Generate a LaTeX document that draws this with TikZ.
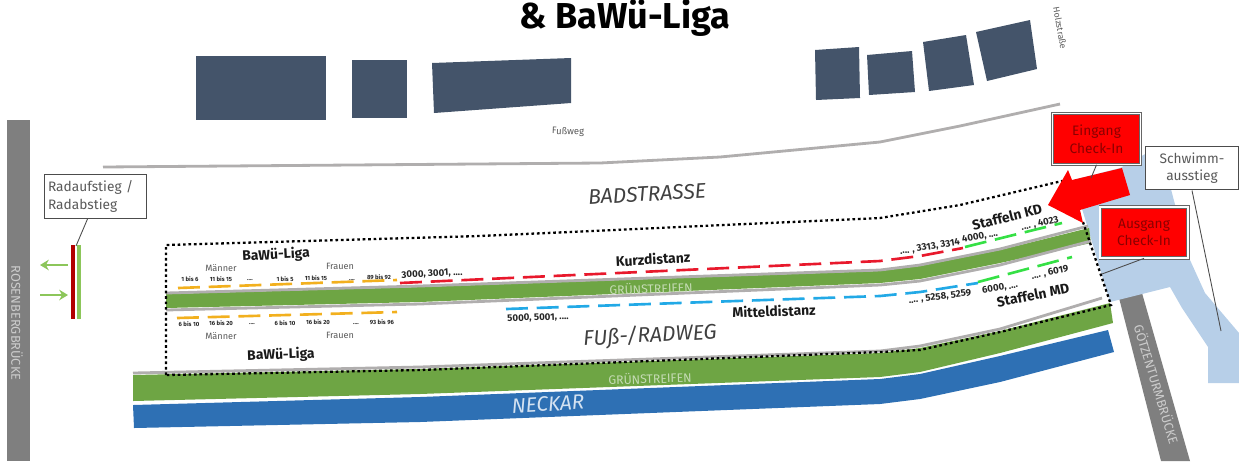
\documentclass[tikz,border=0pt]{standalone}
\usepackage{fontspec}
\setmainfont{Fira Sans}
\usetikzlibrary{arrows.meta,calc}
\definecolor{HouseBlue}{HTML}{44546a}
\definecolor{RoadGray}{HTML}{7f7f7f}
\definecolor{EdgeGray}{HTML}{b0aeae}
\definecolor{StripGreen}{HTML}{6ea544}
\definecolor{RiverBlue}{HTML}{2e70b4}
\definecolor{WaterBlue}{HTML}{b7cfe8}
\definecolor{LaneOrange}{HTML}{f2b01e}
\definecolor{LaneRed}{HTML}{e8192c}
\definecolor{LaneGreen}{HTML}{35e045}
\definecolor{LaneBlue}{HTML}{22a9e6}
\definecolor{ArrowGreen}{HTML}{8cc65a}
\definecolor{LabelGray}{HTML}{595959}
\definecolor{CheckRed}{HTML}{ff0000}
\definecolor{CheckText}{HTML}{8a0000}
\newcommand{\moredots}{....}
\tikzset{
    house/.style={fill=HouseBlue,draw=none},
    edgeline/.style={draw=EdgeGray,line width=1.6pt,line join=round},
    lane/.style={line width=1.5pt,dash pattern=on 12.5pt off 5pt},
    dotbox/.style={line width=1.3pt,dash pattern=on 1.5pt off 1.6pt},
    tinylabel/.style={font=\bfseries\fontsize{3.4}{4}\selectfont,text=black!85,inner sep=0pt},
    numlabel/.style={font=\bfseries\fontsize{5.5}{6}\selectfont,text=black!85,inner sep=0pt},
    groupname/.style={font=\bfseries\fontsize{7.9}{9}\selectfont,text=black!90,inner sep=0pt},
    sexlabel/.style={font=\fontsize{5.2}{6}\selectfont,text=LabelGray,inner sep=0pt},
    striplabel/.style={font=\fontsize{7}{8}\selectfont,text=StripGreen!40!white,inner sep=0pt},
    streetname/.style={font=\itshape\fontsize{12}{14}\selectfont,text=black!75,inner sep=0pt},
    bridgename/.style={font=\fontsize{7.3}{8}\selectfont,text=black!20,inner sep=0pt},
    notebox/.style={draw=black!70,fill=white,line width=0.6pt,inner ysep=0pt,inner xsep=2pt,
        minimum height=25pt,font=\fontsize{7.8}{10}\selectfont,text=LabelGray,text width=#1},
    checkbox/.style={draw=black!60,fill=CheckRed,double=white,double distance=1pt,line width=0.4pt,
        minimum width=50pt,minimum height=29pt,align=center,inner sep=0pt,
        font=\fontsize{7.8}{10}\selectfont,text=CheckText}
}
\begin{document}
\begin{tikzpicture}[x=0.02cm,y=-0.02cm]
    \useasboundingbox (0,0) rectangle (1239,461);
    \node[font=\bfseries\fontsize{20.5}{24}\selectfont,inner sep=0pt] (title) at (625,18) {\& BaWü-Liga};

    \fill[house] (196,56) -- (326,56) -- (326,120) -- (196,120) -- cycle;
    \fill[house] (352,60) -- (407,60) -- (407,118) -- (352,118) -- cycle;
    \fill[house] (432,63) -- (571,58) -- (571,103) -- (434,113) -- cycle;
    \fill[house] (815,50) -- (859,47) -- (860,98) -- (816,100) -- cycle;
    \fill[house] (867,55) -- (912,51) -- (915,92) -- (869,95) -- cycle;
    \fill[house] (923,42) -- (966,35) -- (974,85) -- (929,91) -- cycle;
    \fill[house] (976,32) -- (1030,20) -- (1037,69) -- (987,81) -- cycle;
    \node[font=\fontsize{5}{6}\selectfont,text=LabelGray,rotate=-80,inner sep=0pt] (holz) at (1060,28) {Holzstraße};
    \node[font=\fontsize{5.4}{6}\selectfont,text=LabelGray,rotate=-2,inner sep=0pt] (fussweg) at (568,132) {Fußweg};
    \draw[edgeline] (103,167) -- (600,163) -- (720,157) -- (880,142) -- (960,126) -- (1060,104);
    \node[streetname,rotate=3] (badstrasse) at (647,194) {BADSTRASSE};

    \fill[RoadGray] (7,120) rectangle (30,461);
    \node[bridgename,rotate=-90] (rosenberg) at (17,323) {ROSENBERGBRÜCKE};
    \fill[RoadGray] (1119,298) -- (1142,293) -- (1190,461) -- (1161,461) -- cycle;
    \node[bridgename,rotate=-73] (goetzen) at (1157,384) {GÖTZENTURMBRÜCKE};

    \fill[WaterBlue] (1073,180) -- (1120,168) -- (1147,153) -- (1163,158) -- (1173,197) -- (1190,260)
        -- (1205,293) -- (1239,333) -- (1239,383) -- (1208,383) -- (1208,347) -- (1182,308)
        -- (1170,287) -- (1110,302) -- (1083,212) -- cycle;

    \fill[StripGreen] (166,294) -- (420,287) -- (880,271) -- (920,266) -- (1000,250) -- (1089,228)
        -- (1091,243) -- (1000,263) -- (920,279) -- (880,283) -- (420,302) -- (166,308) -- cycle;
    \draw[edgeline] (166,293) -- (420,286) -- (880,270) -- (920,265) -- (1000,249) -- (1088,226);
    \draw[edgeline] (166,310) -- (420,304) -- (880,285) -- (920,281) -- (1000,265) -- (1091,241);

    \fill[StripGreen] (133,375) -- (420,369) -- (880,353) -- (920,348) -- (1000,331) -- (1110,303)
        -- (1113,323) -- (1000,353) -- (920,372) -- (880,377) -- (420,394) -- (133,401) -- cycle;
    \draw[edgeline] (133,373) -- (420,367) -- (880,351) -- (920,346) -- (1000,329) -- (1102,298);
    \fill[RiverBlue] (133,405) -- (420,397) -- (880,379) -- (920,374) -- (1000,356) -- (1108,330)
        -- (1114,352) -- (1000,382) -- (920,399) -- (880,404) -- (420,422) -- (134,428) -- cycle;
    \node[striplabel,rotate=2] (strip a) at (651,288) {GRÜNSTREIFEN};
    \node[striplabel,rotate=2] (strip b) at (650,378) {GRÜNSTREIFEN};
    \node[font=\itshape\fontsize{11.8}{13}\selectfont,text=WaterBlue!60!white,rotate=3,inner sep=0pt] (neckar) at (548,404) {NECKAR};
    \node[streetname,rotate=3] (radweg) at (650,336) {FUß-/RADWEG};

    \draw[dotbox] (166,375) -- (166,245) -- (480,236) -- (880,218) -- (960,205) -- (1062,181);
    \draw[dotbox] (1083,222) -- (1111,305) -- (1000,332) -- (920,350) -- (880,352) -- (420,370) -- (166,375);

    \draw[lane,LaneOrange] (178,288) -- (397,280);
    \draw[lane,LaneRed] (400,283) -- (880,261) -- (920,256) -- (963,248);
    \draw[lane,LaneGreen] (965,247) -- (1062,223);
    \draw[lane,LaneOrange] (177,318) -- (397,312);
    \draw[lane,LaneBlue] (506,309) -- (880,296) -- (920,292) -- (978,283);
    \draw[lane,LaneGreen] (978,282) -- (1072,257);

    \foreach \px/\py/\txt in {190/279/1 bis 6,221/279/11 bis 15,250/280/\moredots,285/279/1 bis 5,
        316/278/11 bis 15,352/280/\moredots,379/277/89 bis 92,189/324/6 bis 10,221/323/16 bis 20,
        252/324/\moredots,285/323/6 bis 10,318/322/16 bis 20,356/324/\moredots,382/322/93 bis 96} {
        \node[tinylabel] (bib\px-\py) at (\px,\py) {\txt};
    }
    \foreach \px/\py in {221/268,221/336} {
        \node[sexlabel] (men\py) at (\px,\py) {Männer};
    }
    \foreach \px/\py in {340/266,340/335} {
        \node[sexlabel] (women\py) at (\px,\py) {Frauen};
    }
    \node[groupname,rotate=3] (liga top) at (276,255) {BaWü-Liga};
    \node[groupname,rotate=2] (liga low) at (281,355) {BaWü-Liga};
    \node[groupname,rotate=3] (kurz) at (653,259) {Kurzdistanz};
    \node[groupname,rotate=2] (mittel) at (774,311) {Mitteldistanz};
    \node[groupname,rotate=14] (staffel kd) at (1007,217) {Staffeln KD};
    \node[groupname,rotate=11] (staffel md) at (1033,295) {Staffeln MD};
    \node[numlabel,rotate=3] (num a) at (432,274) {3000, 3001, ....};
    \node[numlabel,rotate=2] (num b) at (538,318) {5000, 5001, ....};
    \node[numlabel,rotate=9] (num c) at (930,247) {.... , 3313, 3314};
    \node[numlabel,rotate=11] (num d) at (980,237) {4000, ....};
    \node[numlabel,rotate=12] (num e) at (1040,224) {.... , 4023};
    \node[numlabel,rotate=7] (num f) at (940,297) {.... , 5258, 5259};
    \node[numlabel,rotate=9] (num g) at (1000,288) {6000, ....};
    \node[numlabel,rotate=12] (num h) at (1050,273) {.... , 6019};

    \coordinate (rad top) at (76,246);
    \coordinate (eingang end) at (1091,178);
    \coordinate (ausgang end) at (1102,274);
    \coordinate (schwimm end) at (1221,331);
    \draw[red!70!black,line width=2.2pt] (73,245) -- (73,319);
    \draw[ArrowGreen,line width=1.8pt] (79,245) -- (79,319);
    \draw[ArrowGreen,line width=1.5pt,-{Stealth[length=5pt,width=6pt]}] (68,265) -- (40,265);
    \draw[ArrowGreen,line width=1.5pt,-{Stealth[length=5pt,width=6pt]}] (40,295) -- (68,295);

    \fill[CheckRed] (1048,205) -- (1068,170) -- (1072,180) -- (1122,168) -- (1130,195) -- (1080,210) -- (1083,223) -- cycle;

    \node[notebox=54pt,align=left] (rad) at (95.5,196.5) {Radaufstieg /\\Radabstieg};
    \node[notebox=49pt,align=center] (schwimm) at (1192,168) {Schwimm-\\ausstieg};
    \node[checkbox] (eingang) at (1096.5,139) {Eingang\\Check-In};
    \node[checkbox] (ausgang) at (1144,232.5) {Ausgang\\Check-In};
    \draw[black!70,line width=0.5pt] ($(rad.south)+(-8,0)$) -- (rad top);
    \draw[black!70,line width=0.5pt] (eingang.south) -- (eingang end);
    \draw[black!70,line width=0.5pt] (ausgang.south) -- (ausgang end);
    \draw[black!70,line width=0.5pt] (schwimm.south) -- (schwimm end);
\end{tikzpicture}
\end{document}
